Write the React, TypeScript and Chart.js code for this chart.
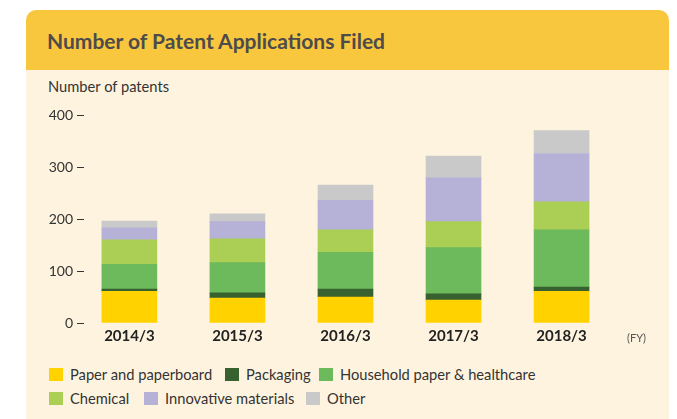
import React, { useEffect, useRef } from 'react';
import { Chart, registerables } from 'chart.js';

Chart.register(...registerables);

const categories = ['2014/3', '2015/3', '2016/3', '2017/3', '2018/3'];
const paperValues = [61, 48, 50, 44, 61];
const packagingValues = [4, 10, 15, 12, 8];
const householdValues = [48, 58, 71, 89, 110];
const chemicalValues = [47, 46, 43, 50, 54];
const innovativeValues = [23, 33, 57, 84, 93];
const otherValues = [13, 15, 29, 42, 44];
const yTickValues = [0, 100, 200, 300, 400];

const seriesNames = [
  'Paper and paperboard',
  'Packaging',
  'Household paper & healthcare',
  'Chemical',
  'Innovative materials',
  'Other',
];
const seriesValues = [paperValues, packagingValues, householdValues, chemicalValues, innovativeValues, otherValues];
const seriesColors = ['#FFD200', '#386130', '#6DBA5C', '#ABCE55', '#B5B1D7', '#C9C9C9'];

const legendRows = [
  [0, 1, 2],
  [3, 4, 5],
];
const legendLefts = [
  [49, 225, 319],
  [49, 144, 306],
];

const FONT = 'Lato, "Open Sans", sans-serif';

export default function App() {
  const canvasRef = useRef<HTMLCanvasElement | null>(null);

  useEffect(() => {
    if (!canvasRef.current) return;
    const chart = new Chart(canvasRef.current, {
      type: 'bar',
      data: {
        datasets: seriesNames.map((name, k) => ({
          label: name,
          data: seriesValues[k].map((v, i) => ({ x: i, y: v })),
          backgroundColor: seriesColors[k],
          borderWidth: 0,
          barThickness: 55,
        })),
      },
      options: {
        animation: false,
        responsive: false,
        maintainAspectRatio: false,
        layout: { padding: { top: 20, right: 20, left: 0, bottom: 0 } },
        plugins: { legend: { display: false }, tooltip: { enabled: false } },
        scales: {
          x: {
            type: 'linear',
            offset: false,
            min: -0.42,
            max: 4.8,
            stacked: true,
            grid: { display: false },
            border: { display: false },
            ticks: {
              stepSize: 1,
              includeBounds: false,
              autoSkip: false,
              maxRotation: 0,
              padding: -4,
              color: '#222',
              font: { family: FONT, size: 15, weight: 'bold' },
              callback: (v: any) => (Number.isInteger(v) && categories[v] !== undefined ? categories[v] : null),
            },
            afterFit: (s: any) => {
              s.height = 32;
            },
          },
          y: {
            stacked: true,
            min: 0,
            max: 400,
            afterBuildTicks: (s: any) => {
              s.ticks = yTickValues.map((v) => ({ value: v }));
            },
            ticks: {
              padding: 4,
              color: '#333',
              font: { family: FONT, size: 14 },
            },
            grid: { drawOnChartArea: false, drawTicks: true, tickLength: 7, color: '#333', tickColor: '#333', tickWidth: 1 },
            border: { display: false },
            afterFit: (s: any) => {
              s.width = 58;
            },
          },
        },
      },
    } as any);
    return () => chart.destroy();
  }, []);

  return (
    <div style={{ position: 'absolute', left: 0, top: 0, width: 677, height: 419, background: '#ffffff', overflow: 'hidden', fontFamily: FONT }}>
      <div style={{ position: 'absolute', left: 26, top: 10, width: 643, height: 60, background: '#F9C73D', borderRadius: '10px 10px 0 0' }} />
      <div style={{ position: 'absolute', left: 26, top: 70, width: 643, height: 349, background: '#FEF3DF' }} />
      <div style={{ position: 'absolute', left: 47, top: 11, height: 60, lineHeight: '60px', fontSize: 21, fontWeight: 700, color: '#4D4B4B', whiteSpace: 'nowrap' }}>
        Number of Patent Applications Filed
      </div>
      <div style={{ position: 'absolute', left: 48, top: 77, lineHeight: '18px', fontSize: 14.7, color: '#333', whiteSpace: 'nowrap' }}>
        Number of patents
      </div>
      <canvas ref={canvasRef} width={642} height={260} style={{ position: 'absolute', left: 26, top: 95, width: 642, height: 260 }} />
      <div style={{ position: 'absolute', left: 627, top: 331, lineHeight: '14px', fontSize: 11, color: '#555', whiteSpace: 'nowrap' }}>(FY)</div>
      {legendRows.map((row, r) =>
        row.map((k, j) => (
          <div key={k} style={{ position: 'absolute', left: legendLefts[r][j], top: 366 + r * 24, height: 16, display: 'flex', alignItems: 'center', whiteSpace: 'nowrap' }}>
            <div style={{ width: 14, height: 13, background: seriesColors[k], marginRight: 7 }} />
            <span style={{ fontSize: 14.7, color: '#333', lineHeight: '16px' }}>{seriesNames[k]}</span>
          </div>
        ))
      )}
    </div>
  );
}
